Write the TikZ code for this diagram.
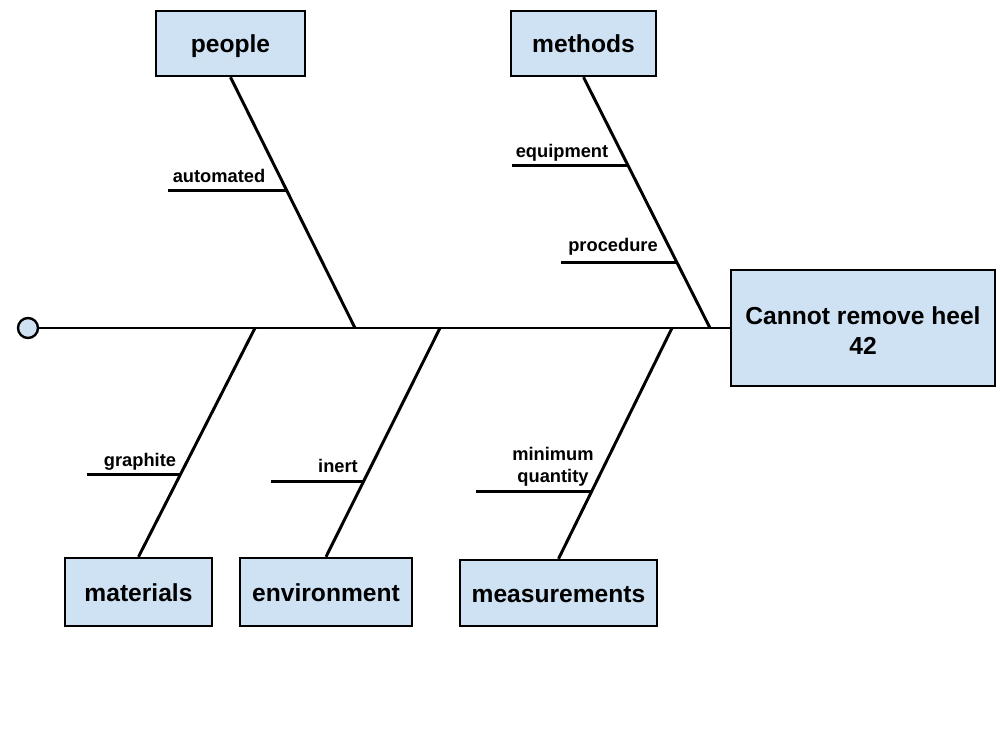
\documentclass[tikz,border=0pt]{standalone}
\usepackage{fontspec}
\setmainfont{Liberation Sans}
\usetikzlibrary{calc}
\definecolor{boxfill}{HTML}{CFE2F3}
\begin{document}
\begin{tikzpicture}[x=0.025cm,y=-0.025cm,
  cause/.style={draw=black, line width=1.7pt, fill=boxfill, inner sep=0pt,
    font=\fontsize{17.5}{21}\selectfont\bfseries, align=center},
  oneline/.style={text height=15pt, text depth=1.5pt},
  bone/.style={line width=2.1pt, draw=black},
  lbl/.style={font=\fontsize{13}{15.6}\selectfont\bfseries, inner sep=0pt, align=center}]
\useasboundingbox (0,0) rectangle (1000,750);
% boxes
\node[cause, oneline, minimum width=3.725cm, minimum height=1.625cm] (people) at (230.5,43.5) {people};
\node[cause, oneline, minimum width=3.625cm, minimum height=1.625cm] (methods) at (583.5,43.5) {methods};
\node[cause, minimum width=6.6cm, minimum height=2.9cm] (effect) at (863,328) {\rule{0pt}{16.6pt}Cannot remove heel\\42};
\node[cause, oneline, minimum width=3.675cm, minimum height=1.7cm] (materials) at (138.5,592) {materials};
\node[cause, oneline, minimum width=4.3cm, minimum height=1.7cm] (environment) at (326,592) {environment};
\node[cause, oneline, minimum width=4.925cm, minimum height=1.65cm] (measurements) at (558.5,593) {measurements};
\node[circle, draw=black, line width=1.7pt, fill=boxfill, minimum size=0.5cm, inner sep=0pt] (tail) at (28,328) {};
% spine points
\coordinate (sp1) at (355,328);
\coordinate (sp2) at (710,328);
\coordinate (sp3) at (255,328);
\coordinate (sp4) at (440,328);
\coordinate (sp5) at (672,328);
% spine
\draw[bone] (tail.east) -- (effect.west);
% bones
\draw[bone] (people.south) -- (sp1);
\draw[bone] (methods.south) -- (sp2);
\draw[bone] (sp3) -- (materials.north);
\draw[bone] (sp4) -- (environment.north);
\draw[bone] (sp5) -- (measurements.north);
% sub-bone points
\coordinate (a1) at ($(people.south)!0.452!(sp1)$);
\coordinate (b1) at ($(methods.south)!0.353!(sp2)$);
\coordinate (b2) at ($(methods.south)!0.738!(sp2)$);
\coordinate (c1) at ($(sp3)!0.639!(materials.north)$);
\coordinate (d1) at ($(sp4)!0.670!(environment.north)$);
\coordinate (e1) at ($(sp5)!0.707!(measurements.north)$);
\draw[bone] (a1) -- ++(-119,0) coordinate (a1e);
\draw[bone] (b1) -- ++(-116,0) coordinate (b1e);
\draw[bone] (b2) -- ++(-116,0) coordinate (b2e);
\draw[bone] (c1) -- ++(-94,0) coordinate (c1e);
\draw[bone] (d1) -- ++(-93,0) coordinate (d1e);
\draw[bone] (e1) -- ++(-116,0) coordinate (e1e);
% labels
\node[lbl] (la1) at (219,176) {automated};
\node[lbl] (lb1) at (562,153) {equipment};
\node[lbl] (lb2) at (613,247) {procedure};
\node[lbl] (lc1) at (140,462) {graphite};
\node[lbl] (ld1) at (338,466) {inert};
\node[lbl] (le1) at (553,467) {minimum\\quantity};
\end{tikzpicture}
\end{document}
